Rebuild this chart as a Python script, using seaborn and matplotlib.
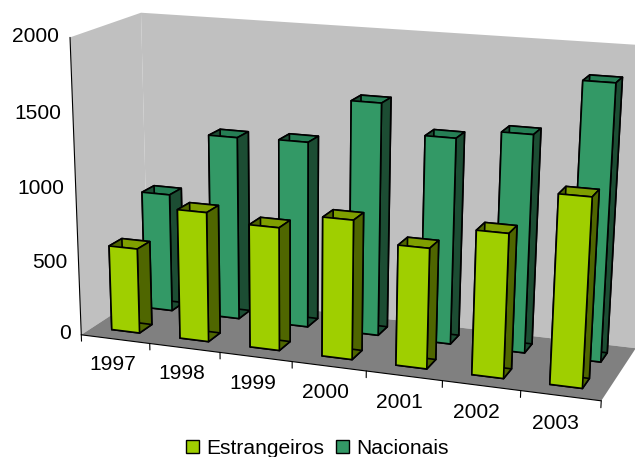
import numpy as np
import matplotlib
matplotlib.use("Agg")
import matplotlib.pyplot as plt
from matplotlib.patches import Patch
from mpl_toolkits.mplot3d.art3d import Poly3DCollection
from mpl_toolkits.mplot3d import proj3d
import seaborn as sns

anos = ['1997', '1998', '1999', '2000', '2001', '2002', '2003']
estrangeiros = [587, 885, 833, 933, 800, 947, 1225]
nacionais = [830, 1270, 1280, 1580, 1390, 1455, 1820]
ticks_valor = [0, 500, 1000, 1500, 2000]

W, H = 635, 457
n_anos = len(anos)
y_max = 2
z_max = ticks_valor[-1]

sns.set_theme(style="white", font="Liberation Sans")

fig = plt.figure(figsize=(W / 100, H / 100), dpi=100)
# eixo quadrado maior que a figura, para nada ser cortado
ax = fig.add_axes([0, (H - W) / 2 / H, 1, W / H], projection='3d', computed_zorder=False)
ax.set_axis_off()
ax.apply_aspect()

# cantos da caixa 3D do Excel (normalizados) -> pixels da imagem
cantos = [((0, 0, 0), (81.5, 335)), ((0, 0, 1), (70, 37)),
          ((0, 1, 0), (148, 291)), ((0, 1, 1), (141, 13)),
          ((1, 0, 0), (601, 401)), ((1, 1, 0), (636, 348)),
          ((1, 1, 1), (654, 46))]
A, b = [], []
inv = ax.transData.inverted()
for (cx, cy, cz), (px, py) in cantos:
    u, v = inv.transform((px, H - py))
    A.append([cx, cy, cz, 1, 0, 0, 0, 0, -u * cx, -u * cy, -u * cz])
    A.append([0, 0, 0, 0, cx, cy, cz, 1, -v * cx, -v * cy, -v * cz])
    b += [u, v]
p = np.linalg.lstsq(np.array(A), np.array(b), rcond=None)[0]
P = np.append(p, 1).reshape(3, 4) @ np.diag([1 / n_anos, 1 / y_max, 1 / z_max, 1])
M = np.array([P[0], P[1], [-0.01, 1, 0, 0], P[2]])
ax.get_proj = lambda: M

ax.set_xlim(0, n_anos)
ax.set_ylim(0, y_max)
ax.set_zlim(0, z_max)


def rotulo(x, y, z, texto, **kw):
    u, v, _ = proj3d.proj_transform(x, y, z, M)
    ax.text2D(u, v, texto, transform=ax.transData, va='center', fontsize=15.1,
              color='black', zorder=6, **kw)


# paredes e chao
parede = '#C0C0C0'
chao = '#808080'
ax.add_collection3d(Poly3DCollection(
    [[(0, 0, 0), (0, y_max, 0), (0, y_max, z_max), (0, 0, z_max)],
     [(0, y_max, 0), (n_anos, y_max, 0), (n_anos, y_max, z_max), (0, y_max, z_max)]],
    facecolors=parede, edgecolors='none', zorder=1), autolim=False)
ax.add_collection3d(Poly3DCollection(
    [[(0, 0, 0), (n_anos, 0, 0), (n_anos, y_max, 0), (0, y_max, 0)]],
    facecolors=chao, edgecolors='none', zorder=1.1), autolim=False)

# linhas de grade
for v in ticks_valor[1:-1]:
    ax.plot([0, 0, n_anos], [0, y_max, y_max], [v, v, v], color='black', lw=0.7, zorder=1.5)
ax.plot([0, 0, n_anos], [0, y_max, y_max], [z_max] * 3, color='#808080', lw=1.5, zorder=1.5)
ax.plot([0, 0], [y_max, y_max], [0, z_max], color='#808080', lw=1.5, zorder=1.5)
ax.plot([0, 0], [0, 0], [0, z_max], color='black', lw=0.8, zorder=1.6)
ax.plot([0, n_anos], [0, 0], [0, 0], color='black', lw=0.8, zorder=1.6)
ax.plot([n_anos, n_anos], [0, y_max], [0, 0], color='black', lw=0.6, zorder=1.6)

# barras: -z, +z, -y, +y, -x, +x
cores_e = ['#4F6600', '#7F9F00', '#9FCF00', '#4F6600', '#4F6600', '#4F6600']
cores_n = ['#1C4D33', '#267F55', '#339966', '#1C4D33', '#1C4D33', '#1C4D33']
xs = np.arange(n_anos) + 0.28
zeros = np.zeros(n_anos)
largura = np.full(n_anos, 0.41)
prof = np.full(n_anos, 0.37)
ax.bar3d(xs, zeros + 1.33, zeros, largura, prof, nacionais, color=cores_n * n_anos,
         shade=False, edgecolor='black', linewidth=1.2, zorder=2)
ax.bar3d(xs, zeros + 0.33, zeros, largura, prof, estrangeiros, color=cores_e * n_anos,
         shade=False, edgecolor='black', linewidth=1.2, zorder=3)

# marcas e rotulos
for v in ticks_valor:
    ax.plot([-0.09, 0], [0, 0], [v, v], color='black', lw=0.8, zorder=1.6)
    rotulo(-0.16, 0, v, str(v), ha='right')
for i in range(n_anos + 1):
    ax.plot([i, i], [0, 0], [0, -45], color='black', lw=0.8, zorder=1.6)
for i, ano in enumerate(anos):
    rotulo(i + 0.45, 0, -185, ano, ha='center')

handles = [Patch(facecolor='#9FCF00', edgecolor='black', label='Estrangeiros'),
           Patch(facecolor='#339966', edgecolor='black', label='Nacionais')]
fig.legend(handles=handles, loc='lower center', bbox_to_anchor=(0.5, -0.025), ncol=2,
           frameon=False, fontsize=15.1, handlelength=0.62, handleheight=0.62,
           handletextpad=0.35, columnspacing=0.55, borderpad=0, labelcolor='black')

fig.savefig('out.png', dpi=100)
